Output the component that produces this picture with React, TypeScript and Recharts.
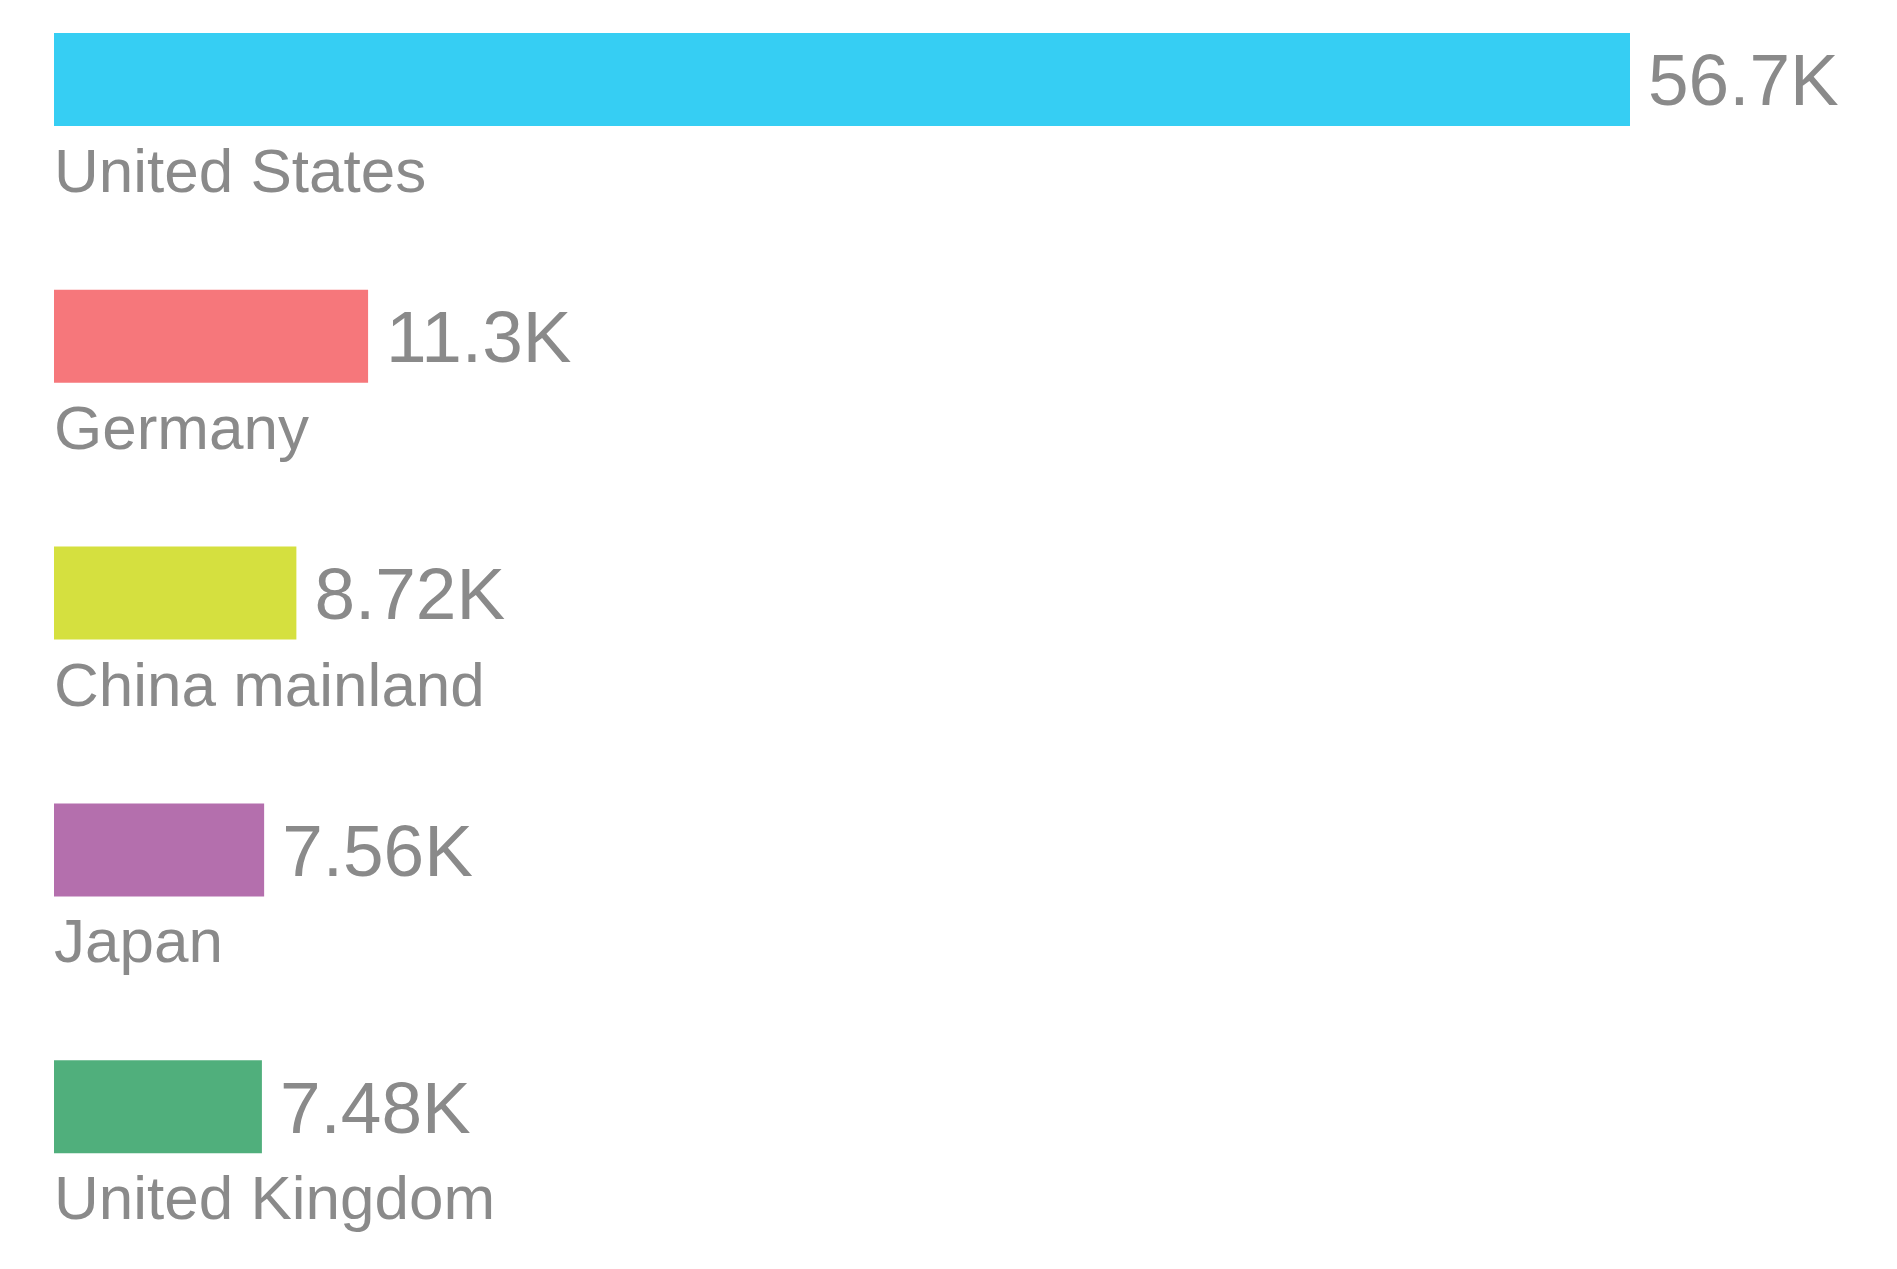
import { BarChart, Bar, XAxis, YAxis, Cell, LabelList } from 'recharts';

const countries = ['United States', 'Germany', 'China mainland', 'Japan', 'United Kingdom'];
const visitors = [56700, 11300, 8720, 7560, 7480];
const barColors = ['#36CEF3', '#F6777B', '#D5E03F', '#B46FAD', '#50AF7C'];

const data = countries.map((name, i) => ({ name, value: visitors[i] }));

// 3 significant digits, e.g. 56.7K / 8.72K
const formatK = (v: number): string => (v / 1000).toPrecision(3) + 'K';

const FONT = '"Liberation Sans", Arial, sans-serif';

// country name drawn under each bar
const NameLabel = (props: any) => {
  const { x, y, height, value } = props;
  return (
    <text
      x={x}
      y={y + height + 66}
      fill="#8a8a8a"
      fontSize={62}
      fontFamily={FONT}
      textAnchor="start"
    >
      {value}
    </text>
  );
};

export default function App() {
  return (
    <div style={{ width: 1880, height: 1250, background: '#fff' }}>
      <BarChart
        width={1880}
        height={1250}
        data={data}
        layout="vertical"
        margin={{ top: -57, right: 258, bottom: 23, left: 46 }}
      >
        <XAxis type="number" domain={[0, 'dataMax']} hide />
        <YAxis type="category" dataKey="name" hide />
        <Bar dataKey="value" barSize={93} isAnimationActive={false}>
          {data.map((entry, index) => (
            <Cell key={`cell-${index}`} fill={barColors[index]} />
          ))}
          <LabelList
            dataKey="value"
            position="right"
            offset={18}
            formatter={(v: any) => formatK(Number(v))}
            fill="#8a8a8a"
            fontSize={73}
            fontFamily={FONT}
          />
          <LabelList dataKey="name" content={NameLabel} />
        </Bar>
      </BarChart>
    </div>
  );
}
